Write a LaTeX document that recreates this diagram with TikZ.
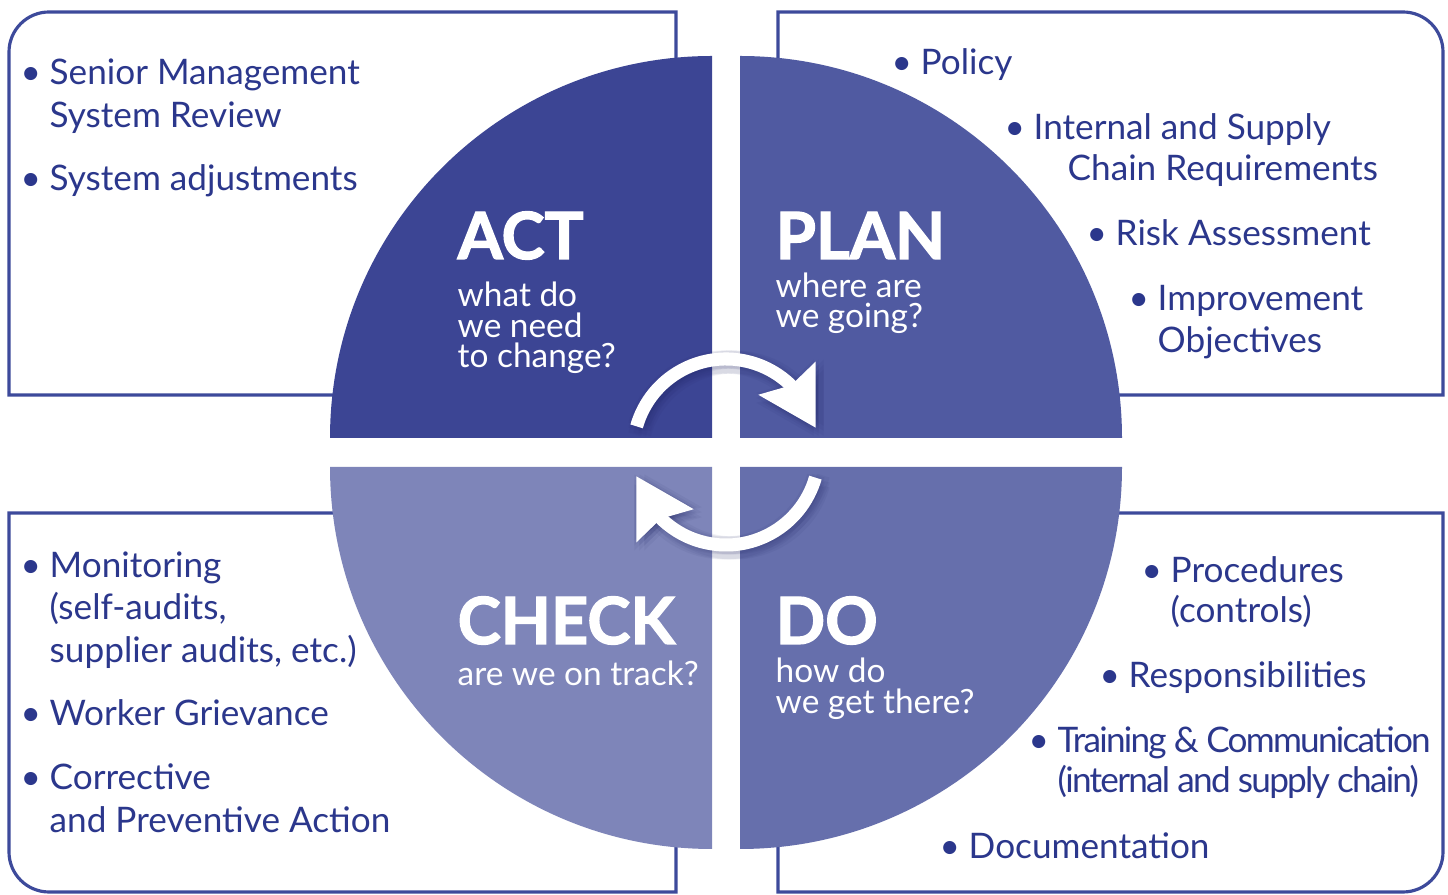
\documentclass[tikz,border=0pt]{standalone}
\usepackage{fontspec}
\setmainfont{Lato}
\newfontfamily\headfont{Lato}[BoldFeatures={FakeBold=2}]
\usetikzlibrary{arrows.meta,bending}

\definecolor{ink}{HTML}{2B378C}
\definecolor{rim}{HTML}{3D4A9B}
\definecolor{actblue}{HTML}{3C4594}
\definecolor{planblue}{HTML}{505AA1}
\definecolor{checkblue}{HTML}{7E85B9}
\definecolor{doblue}{HTML}{666FAC}
\definecolor{shade}{HTML}{1A1F5E}

% bullet hanging left of the text
\newcommand{\bul}{\llap{\textbullet\hspace{2.5pt}}}
\newcommand{\tight}{\addfontfeature{LetterSpace=-5}}

\tikzset{
  frame/.style={draw=rim, line width=0.9pt, fill=white},
  boxtxt/.style={anchor=base west, inner sep=0pt, text=ink, font=\fontsize{10}{12}\selectfont},
  headtxt/.style={anchor=base west, inner sep=0pt, text=white, font=\headfont\bfseries\fontsize{18.5}{20}\selectfont},
  subtxt/.style={anchor=base west, inner sep=0pt, text=white, font=\fontsize{9.5}{11}\selectfont},
  cyclearrow/.style={draw=white, line width=3.7pt, -{Stealth[length=16pt, width=18pt, inset=2pt]}},
  arrowshade/.style={cyclearrow, draw=shade, opacity=0.06}
}

\begin{document}
\begin{tikzpicture}[x=0.01cm, y=-0.01cm]
\useasboundingbox (0,0) rectangle (1448,895);

% frames
\draw[frame] (676,395) -- (9,395) -- (9,52) arc[start angle=180, end angle=270, radius=40] -- (676,12) -- cycle;
\draw[frame] (778,395) -- (1443,395) -- (1443,52) arc[start angle=0, end angle=-90, radius=40] -- (778,12) -- cycle;
\draw[frame] (676,513) -- (9,513) -- (9,852) arc[start angle=180, end angle=90, radius=40] -- (676,892) -- cycle;
\draw[frame] (778,513) -- (1443,513) -- (1443,852) arc[start angle=0, end angle=90, radius=40] -- (778,892) -- cycle;

% the wheel
\fill[actblue] (712,438) -- (330,438) arc[start angle=180, end angle=270, radius=382] -- cycle;
\fill[planblue] (740,438) -- (740,56) arc[start angle=270, end angle=360, radius=382] -- cycle;
\fill[checkblue] (712,467) -- (712,849) arc[start angle=90, end angle=180, radius=382] -- cycle;
\fill[doblue] (740,467) -- (1122,467) arc[start angle=0, end angle=90, radius=382] -- cycle;

% turning arrows, with a soft shadow
\foreach \dx in {-2,3,8}
  \foreach \dy in {-2,3,8} {
    \draw[arrowshade] (726+\dx,452+\dy) ++(196:93) arc[start angle=196, end angle=345, radius=93];
    \draw[arrowshade] (726+\dx,452+\dy) ++(16:93) arc[start angle=16, end angle=165, radius=93];
  }
\draw[cyclearrow] (726,452) ++(196:93) arc[start angle=196, end angle=345, radius=93];
\draw[cyclearrow] (726,452) ++(16:93) arc[start angle=16, end angle=165, radius=93];

% headings
\node[headtxt] (act) at (457,259) {ACT};
\node[headtxt] (plan) at (775,259) {PLAN};
\node[headtxt] (check) at (457,644) {CHECK};
\node[headtxt] (do) at (775,644) {DO};

\foreach \x/\y/\t [count=\i] in {457/307/what do, 457/338/we need, 457/368/to change?,
    775/298/where are, 775/328/we going?, 457/686/are we on track?,
    775/683/how do, 775/714/we get there?}
  \node[subtxt] (sub\i) at (\x,\y) {\t};

% box texts
\foreach \x/\y/\t [count=\i] in {49/85/\bul Senior Management, 49/128/System Review, 49/191/\bul System adjustments}
  \node[boxtxt] (act\i) at (\x,\y) {\t};
\foreach \x/\y/\t [count=\i] in {920/75/\bul Policy, 1033/140/\bul Internal and Supply, 1067/181/Chain Requirements,
    1115/246/\bul Risk Assessment, 1157/311/\bul Improvement, 1157/353/Objectives}
  \node[boxtxt] (plan\i) at (\x,\y) {\t};
\foreach \x/\y/\t [count=\i] in {49/578/\bul Monitoring, 49/620/(self-audits{,}, 49/663/supplier audits{,} etc.),
    49/726/\bul Worker Grievance, 49/790/\bul Corrective, 49/833/and Preventive Action}
  \node[boxtxt] (check\i) at (\x,\y) {\t};
\foreach \x/\y/\t [count=\i] in {1170/583/\bul Procedures, 1170/623/(controls), 1128/688/\bul Responsibilities,
    1057/753/\bul\tight Training \& Communication, 1057/793/\tight(internal and supply chain), 968/859/\bul Documentation}
  \node[boxtxt] (do\i) at (\x,\y) {\t};

\end{tikzpicture}
\end{document}
